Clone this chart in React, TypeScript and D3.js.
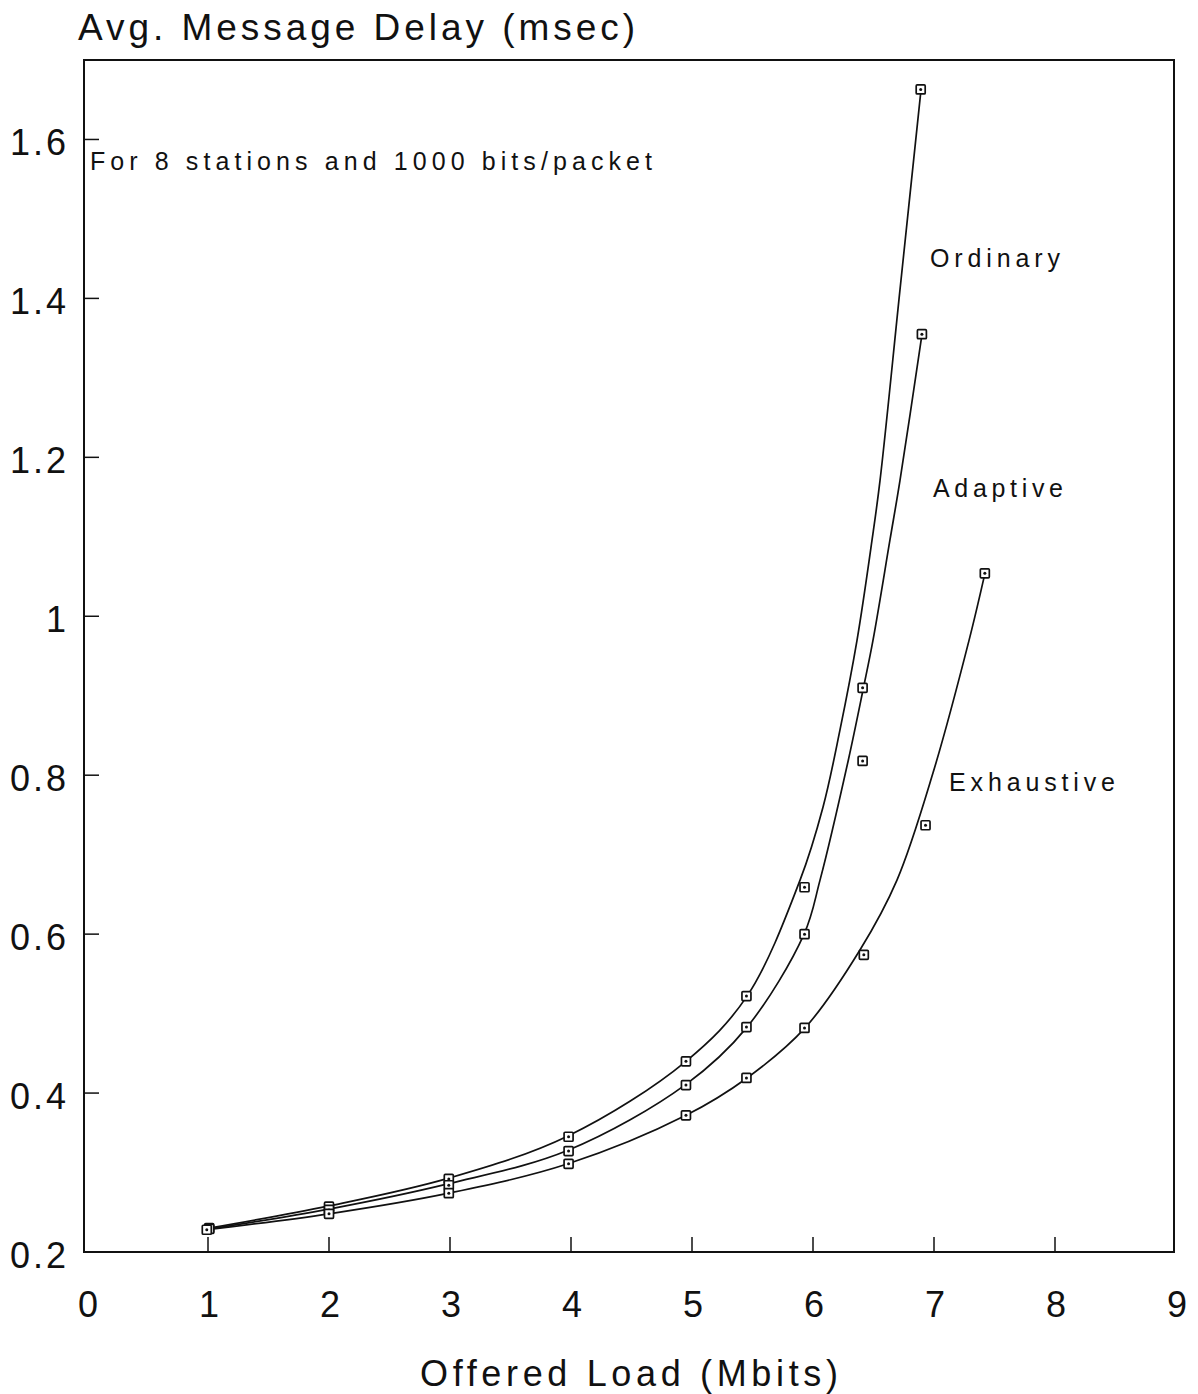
import React, { useRef, useEffect } from 'react';
import * as d3 from 'd3';

// tick labels
const xTickValues = [0, 1, 2, 3, 4, 5, 6, 7, 8, 9];
const yTickValues = [0.2, 0.4, 0.6, 0.8, 1.0, 1.2, 1.4, 1.6];
const yTickLabels = ['0.2', '0.4', '0.6', '0.8', '1', '1.2', '1.4', '1.6'];

// fitted curves
const ordinaryCurveX = [1.01, 2.0, 2.99, 3.975, 4.95, 5.455, 5.893, 6.083, 6.223, 6.364, 6.488, 6.554, 6.719, 6.893];
const ordinaryCurveY = [0.230, 0.258, 0.293, 0.346, 0.440, 0.522, 0.668, 0.760, 0.857, 0.970, 1.096, 1.171, 1.411, 1.663];
const adaptiveCurveX = [1.01, 2.0, 2.99, 3.975, 4.95, 5.455, 5.926, 6.058, 6.289, 6.417, 6.496, 6.636, 6.719, 6.901];
const adaptiveCurveY = [0.229, 0.254, 0.286, 0.328, 0.411, 0.483, 0.600, 0.668, 0.817, 0.910, 0.970, 1.096, 1.171, 1.355];
const exhaustiveCurveX = [0.99, 2.0, 2.99, 3.975, 4.95, 5.455, 5.934, 6.388, 6.694, 6.992, 7.29, 7.421];
const exhaustiveCurveY = [0.228, 0.248, 0.274, 0.311, 0.372, 0.419, 0.482, 0.580, 0.668, 0.803, 0.970, 1.054];

// measured points
const ordinaryPtsX = [1.01, 2.0, 2.99, 3.98, 4.95, 5.45, 5.93, 6.41, 6.89];
const ordinaryPtsY = [0.230, 0.257, 0.292, 0.345, 0.440, 0.522, 0.659, 0.910, 1.663];
const adaptivePtsX = [1.01, 2.0, 2.99, 3.98, 4.95, 5.45, 5.93, 6.41, 6.90];
const adaptivePtsY = [0.229, 0.253, 0.284, 0.327, 0.410, 0.483, 0.600, 0.818, 1.355];
const exhaustivePtsX = [0.99, 2.0, 2.99, 3.98, 4.95, 5.45, 5.93, 6.42, 6.93, 7.42];
const exhaustivePtsY = [0.228, 0.248, 0.274, 0.311, 0.372, 0.419, 0.482, 0.574, 0.737, 1.054];

const seriesNames = ['Ordinary', 'Adaptive', 'Exhaustive'];

const FONT = '"Liberation Sans", Arial, Helvetica, sans-serif';

const Chart = ({ w, h }: { w: number; h: number }) => {
  const gRef = useRef<SVGGElement>(null);

  useEffect(() => {
    draw();
  }, []);

  const draw = () => {
    const g = d3.select(gRef.current);
    g.selectAll('*').remove();

    const frame = { left: 84, right: 1174, top: 60, bottom: 1252 };

    const x = d3.scaleLinear().domain([0, 9]).range([87, 1176]);
    const y = d3.scaleLinear().domain([0.2, 1.7]).range([1252, 60]);

    // frame
    g.append('rect')
      .attr('x', frame.left)
      .attr('y', frame.top)
      .attr('width', frame.right - frame.left)
      .attr('height', frame.bottom - frame.top)
      .attr('fill', 'none')
      .attr('stroke', '#111')
      .attr('stroke-width', 2);

    // x ticks (inward)
    g.selectAll('.xtick')
      .data(xTickValues.filter((v) => v > 0 && v < 9))
      .enter()
      .append('line')
      .attr('x1', (d) => x(d))
      .attr('x2', (d) => x(d))
      .attr('y1', frame.bottom)
      .attr('y2', frame.bottom - 15)
      .attr('stroke', '#111')
      .attr('stroke-width', 1.5);

    g.selectAll('.xlab')
      .data(xTickValues)
      .enter()
      .append('text')
      .attr('x', (d) => x(d) + 1)
      .attr('y', 1317)
      .attr('text-anchor', 'middle')
      .style('font-family', FONT)
      .style('font-size', '36px')
      .attr('fill', '#111')
      .text((d) => String(d));

    // y ticks (inward)
    g.selectAll('.ytick')
      .data(yTickValues.filter((v) => v > 0.2))
      .enter()
      .append('line')
      .attr('x1', frame.left)
      .attr('x2', frame.left + 15)
      .attr('y1', (d) => y(d))
      .attr('y2', (d) => y(d))
      .attr('stroke', '#111')
      .attr('stroke-width', 1.5);

    g.selectAll('.ylab')
      .data(yTickValues)
      .enter()
      .append('text')
      .attr('x', 69)
      .attr('y', (d) => y(d) + 16)
      .attr('text-anchor', 'end')
      .style('font-family', FONT)
      .style('font-size', '36px')
      .style('letter-spacing', '3px')
      .attr('fill', '#111')
      .text((d, i) => yTickLabels[i]);

    // titles
    g.append('text')
      .attr('x', 78)
      .attr('y', 40)
      .attr('textLength', 557)
      .attr('lengthAdjust', 'spacing')
      .style('font-family', FONT)
      .style('font-size', '37px')
      .attr('fill', '#111')
      .text('Avg. Message Delay (msec)');

    g.append('text')
      .attr('x', 420)
      .attr('y', 1386)
      .attr('textLength', 418)
      .attr('lengthAdjust', 'spacing')
      .style('font-family', FONT)
      .style('font-size', '36px')
      .attr('fill', '#111')
      .text('Offered Load (Mbits)');

    g.append('text')
      .attr('x', 90)
      .attr('y', 170)
      .attr('textLength', 562)
      .attr('lengthAdjust', 'spacing')
      .style('font-family', FONT)
      .style('font-size', '25px')
      .attr('fill', '#111')
      .text('For 8 stations and 1000 bits/packet');

    // curves
    const curves = [
      { xs: ordinaryCurveX, ys: ordinaryCurveY },
      { xs: adaptiveCurveX, ys: adaptiveCurveY },
      { xs: exhaustiveCurveX, ys: exhaustiveCurveY },
    ];
    const line = d3
      .line<[number, number]>()
      .x((d) => x(d[0]))
      .y((d) => y(d[1]))
      .curve(d3.curveCatmullRom.alpha(0.5));

    curves.forEach((c) => {
      const pts = c.xs.map((v, i) => [v, c.ys[i]] as [number, number]);
      g.append('path')
        .attr('d', line(pts))
        .attr('fill', 'none')
        .attr('stroke', '#111')
        .attr('stroke-width', 1.7);
    });

    // markers
    const points = [
      { xs: ordinaryPtsX, ys: ordinaryPtsY },
      { xs: adaptivePtsX, ys: adaptivePtsY },
      { xs: exhaustivePtsX, ys: exhaustivePtsY },
    ];
    points.forEach((p) => {
      const pts = p.xs.map((v, i) => [v, p.ys[i]] as [number, number]);
      const m = g.append('g');
      m.selectAll('rect')
        .data(pts)
        .enter()
        .append('rect')
        .attr('x', (d) => x(d[0]) - 4.5)
        .attr('y', (d) => y(d[1]) - 4.5)
        .attr('width', 9)
        .attr('height', 9)
        .attr('rx', 1)
        .attr('fill', '#fff')
        .attr('stroke', '#111')
        .attr('stroke-width', 1.7);
      m.selectAll('circle')
        .data(pts)
        .enter()
        .append('circle')
        .attr('cx', (d) => x(d[0]))
        .attr('cy', (d) => y(d[1]))
        .attr('r', 1.5)
        .attr('fill', '#111');
    });

    // series labels
    const labelPos = [
      { x: 930, y: 267, len: 130 },
      { x: 933, y: 497, len: 130 },
      { x: 949, y: 791, len: 166 },
    ];
    seriesNames.forEach((name, i) => {
      g.append('text')
        .attr('x', labelPos[i].x)
        .attr('y', labelPos[i].y)
        .attr('textLength', labelPos[i].len)
        .attr('lengthAdjust', 'spacing')
        .style('font-family', FONT)
        .style('font-size', '25px')
        .attr('fill', '#111')
        .text(name);
    });
  };

  return (
    <svg
      width={w}
      height={h}
      style={{ position: 'absolute', left: 0, top: 0, background: '#fff', display: 'block' }}
    >
      <g ref={gRef} />
    </svg>
  );
};

export default function App() {
  return <Chart w={1198} h={1394} />;
}
